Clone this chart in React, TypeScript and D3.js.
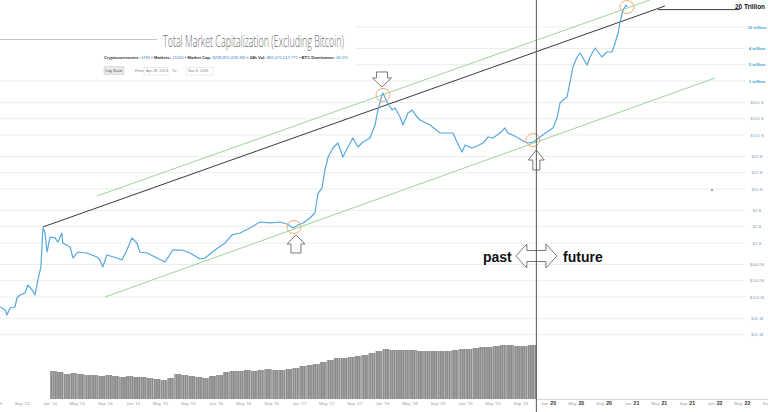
import React from "react";
import * as d3 from "d3";

// ---- Data (market cap excluding Bitcoin, $ billions) ----
const capDates = [
  "2013-05-27","2013-06-18","2013-06-26","2013-07-09","2013-07-31","2013-08-09","2013-08-22","2013-09-13","2013-09-26","2013-10-14",
  "2013-10-27","2013-11-09","2013-11-22","2013-12-01","2013-12-10","2013-12-19","2014-01-01","2014-01-23","2014-02-05","2014-02-22",
  "2014-02-26","2014-03-30","2014-04-12","2014-05-04","2014-06-12","2014-07-26","2014-08-08","2014-08-21","2014-09-08","2014-10-22",
  "2014-11-13","2014-12-05","2014-12-27","2015-01-18","2015-01-31","2015-03-03","2015-04-16","2015-05-21","2015-06-25","2015-08-04",
  "2015-09-08","2015-10-22","2015-11-13","2015-12-27","2016-02-09","2016-03-11","2016-04-15","2016-05-29","2016-07-12","2016-08-25",
  "2016-10-08","2016-11-07","2016-12-04","2016-12-26","2017-01-17","2017-02-16","2017-03-10","2017-03-24","2017-04-10","2017-04-23",
  "2017-05-07","2017-05-28","2017-06-19","2017-07-11","2017-08-02","2017-08-24","2017-09-15","2017-10-07","2017-11-07","2017-11-29",
  "2017-12-12","2017-12-30","2018-01-03","2018-01-21","2018-02-12","2018-02-25","2018-03-19","2018-04-01","2018-04-23","2018-05-11",
  "2018-06-02","2018-06-15","2018-07-29","2018-09-11","2018-10-11","2018-11-07","2018-11-24","2018-12-16","2018-12-30","2019-01-29",
  "2019-02-20","2019-03-19","2019-04-10","2019-05-02","2019-06-01","2019-06-23","2019-07-06","2019-07-28","2019-08-28","2019-09-19",
  "2019-10-11","2019-11-02"
];
const capValues = [
  0.0653,0.0574,0.0464,0.0625,0.0653,0.0958,0.109,0.119,0.167,0.135,
  0.109,0.207,0.36,1.9,1.53,0.681,1.29,1.24,1.04,1.53,
  1.0,0.843,0.527,0.681,0.653,0.551,0.484,0.36,0.6,0.527,
  0.484,0.741,1.24,1.0,0.681,0.653,0.527,0.445,0.741,0.741,
  0.653,0.506,0.527,0.741,1.0,1.41,1.53,1.9,2.45,2.35,
  2.45,2.25,1.9,2.15,2.35,2.9,3.59,8.43,10.4,22.5,
  39.1,57.4,71.1,39.1,60.0,88.0,60.0,74.1,88.0,153,
  290,551,600,408,290,316,215,153,255,290,
  215,190,153,109,109,109,74.1,48.4,65.3,57.4,
  62.5,71.1,91.8,88.0,109,135,109,100,84.3,74.1,
  71.1,77.4
];
// projected ("future") path, $ billions
const projDates = [
  "2019-11-02","2019-11-24","2019-12-25","2020-01-20","2020-02-07","2020-02-20","2020-03-04","2020-03-22","2020-04-04","2020-04-17",
  "2020-05-05","2020-05-18","2020-05-31","2020-06-18","2020-07-01","2020-07-23","2020-08-05","2020-08-22","2020-09-13","2020-10-05",
  "2020-10-19","2020-11-01","2020-11-10","2020-11-23","2020-12-06","2020-12-10"
];
const projValues = [
  77.4,91.8,114,135,207,392,445,506,958,1816,
  2782,3300,2667,1978,2782,4087,3443,2782,3443,3443,
  5058,7745,12380,20650,25550,23450
];
// monthly 24h volume, $ millions, from Jan 2014
const volStart = "2014-01-01";
const volValues = [
  27.5,20.7,11.7,15.6,11.7,8.85,8.85,6.68,8.85,6.68,5.03,6.68,
  5.03,5.03,3.79,2.86,2.15,3.79,11.7,8.85,6.68,5.03,3.79,6.68,
  8.85,20.7,27.5,27.5,36.4,27.5,36.4,48.3,36.4,36.4,48.3,64.1,
  113,150,199,350,615,1080,1080,1440,1910,2530,4460,7850,
  13800,10400,10400,10400,10400,7850,7850,7850,7850,7850,10400,13800,
  13800,18300,24300,24300,32300,42800,42800,32300,32300,42800,42800
];
const cutoffDate = "2019-11-08";

const yTickValues = [10000,4000,2000,1000,400,200,100,40,20,10,4,2,1,0.4,0.2,0.1,0.04,0.02];
const yTickLabels = ["10 trillion","4 trillion","2 trillion","1 trillion","$400 B","$200 B","$100 B","$40 B","$20 B","$10 B","$4 B","$2 B","$1 B","$400 M","$200 M","$100 M","$40 M","$20 M"];

// channel lines: [startDate, startValue, endDate, endValue]
const resistanceLine = ["2013-12-01", 1.98, "2021-05-26", 24480] as const;
const upperChannel = ["2014-07-26", 7.41, "2021-03-21", 31620] as const;
const lowerChannel = ["2014-08-30", 0.1, "2022-01-01", 1137] as const;
const targetLine = ["2021-04-25", 21000, "2022-04-21", 21000] as const;
const targetLabel = "20 Trillion";

const circleDates = ["2016-12-08", "2018-01-03", "2019-10-24", "2020-12-10"];
const circleValues = [1.98, 551, 80.7, 23440];

const statsParts: [string, string][] = [
  ["Cryptocurrencies: ", "4792"],
  [" • Markets: ", "21030"],
  [" • Market Cap: ", "$238,855,658,385"],
  [" • 24h Vol: ", "$82,072,017,771"],
  [" • BTC Dominance: ", "66.5%"],
];

const FONT = "'Liberation Sans', Arial, sans-serif";

function upArrow(cx: number, tipY: number, headW: number, headH: number, shaftW: number, total: number) {
  const hw = headW / 2, sw = shaftW / 2;
  return `M${cx},${tipY} L${cx + hw},${tipY + headH} L${cx + sw},${tipY + headH} L${cx + sw},${tipY + total} L${cx - sw},${tipY + total} L${cx - sw},${tipY + headH} L${cx - hw},${tipY + headH} Z`;
}
function downArrow(cx: number, tipY: number, headW: number, headH: number, shaftW: number, total: number) {
  const hw = headW / 2, sw = shaftW / 2;
  return `M${cx},${tipY} L${cx + hw},${tipY - headH} L${cx + sw},${tipY - headH} L${cx + sw},${tipY - total} L${cx - sw},${tipY - total} L${cx - sw},${tipY - headH} L${cx - hw},${tipY - headH} Z`;
}
function doubleArrow(cx: number, cy: number, total: number, headL: number, headH: number, shaftH: number) {
  const l = cx - total / 2, r = cx + total / 2;
  const hh = headH / 2, sh = shaftH / 2;
  return `M${l},${cy} L${l + headL},${cy - hh} L${l + headL},${cy - sh} L${r - headL},${cy - sh} L${r - headL},${cy - hh} L${r},${cy} L${r - headL},${cy + hh} L${r - headL},${cy + sh} L${l + headL},${cy + sh} L${l + headL},${cy + hh} Z`;
}

export default function App() {
  const parse = d3.utcParse("%Y-%m-%d");
  const P = (s: string) => parse(s) as Date;
  const x = d3.scaleUtc().domain([P("2014-01-01"), P("2022-01-01")]).range([50, 715]);
  const y = d3.scaleLog().domain([10000, 0.1]).range([27, 297]);
  const yVol = d3.scaleLog().domain([0.01, 100000]).range([399, 342]);

  const line = d3.line<[Date, number]>().x((d) => x(d[0])).y((d) => y(d[1]));
  const hist: [Date, number][] = capDates.map((d, i) => [P(d), capValues[i]]);
  const proj: [Date, number][] = projDates.map((d, i) => [P(d), projValues[i]]);

  const xCut = x(P(cutoffDate));
  const v0 = P(volStart);
  const bars = volValues.map((v, i) => {
    const a = x(d3.utcMonth.offset(v0, i));
    const b = Math.min(x(d3.utcMonth.offset(v0, i + 1)), xCut);
    return { x: a, w: Math.max(0, b - a), y: yVol(v) };
  });

  const ticks = d3.utcMonth.every(4)!.range(P("2013-05-01"), P("2022-10-01"));
  const fmtPast = d3.utcFormat("%b '%y");
  const fmtMon = d3.utcFormat("%b");
  const fmtYr = d3.utcFormat("%y");

  const seg = (l: readonly [string, number, string, number]) => ({
    x1: x(P(l[0])), y1: y(l[1]), x2: x(P(l[2])), y2: y(l[3]),
  });
  const res = seg(resistanceLine);
  const up = seg(upperChannel);
  const lo = seg(lowerChannel);
  const tg = seg(targetLine);

  const circles = circleDates.map((d, i) => ({ cx: x(P(d)), cy: y(circleValues[i]) }));

  return (
    <svg width={768} height={412} style={{ position: "absolute", left: 0, top: 0, display: "block", background: "#fff" }} fontFamily={FONT}>
      <defs>
        <pattern id="volstripe" width="2.2" height="10" patternUnits="userSpaceOnUse">
          <rect width="2.2" height="10" fill="#8b8b8b" />
          <rect x="1.5" width="0.7" height="10" fill="#b0b0b0" />
        </pattern>
        <clipPath id="plot"><rect x={0} y={0} width={768} height={412} /></clipPath>
      </defs>

      {/* gridlines */}
      {yTickValues.map((v, i) => (
        <line key={"g" + i} x1={0} x2={745} y1={y(v)} y2={y(v)} stroke="#ededed" strokeWidth={1} />
      ))}

      {/* header (covers grid) */}
      <rect x={0} y={0} width={356} height={79} fill="#fff" />
      <line x1={0} x2={157} y1={39.5} y2={39.5} stroke="#c4c4c4" strokeWidth={1} />
      <text x={163} y={47} fontSize={16.5} fontFamily="'Open Sans', sans-serif" fontWeight={300} fill="#6e6e6e" textLength={181} lengthAdjust="spacingAndGlyphs">
        Total Market Capitalization (Excluding Bitcoin)
      </text>
      <text x={104} y={59} fontSize={4.3} textLength={244} lengthAdjust="spacingAndGlyphs">
        {statsParts.map((p, i) => (
          <React.Fragment key={i}>
            <tspan fill="#333" fontWeight={700}>{p[0]}</tspan>
            <tspan fill="#3b7fd4">{p[1]}</tspan>
          </React.Fragment>
        ))}
      </text>
      <rect x={104} y={66.5} width={20} height={8} rx={1} fill="#e8e8e8" stroke="#cfcfcf" strokeWidth={0.6} />
      <text x={114} y={71.8} fontSize={3.8} textAnchor="middle" fill="#555">Log Scale</text>
      <text x={135} y={72} fontSize={3.8} fill="#888">From:</text>
      <rect x={144} y={67.5} width={24} height={7.5} fill="#fff" stroke="#ddd" strokeWidth={0.6} />
      <text x={146} y={72.3} fontSize={3.8} fill="#888">Apr 28, 2013</text>
      <text x={172} y={72} fontSize={3.8} fill="#888">To:</text>
      <rect x={186} y={67.5} width={27} height={7.5} fill="#fff" stroke="#ddd" strokeWidth={0.6} />
      <text x={188} y={72.3} fontSize={3.8} fill="#888">Nov 8, 2019</text>

      {/* volume */}
      {bars.map((b, i) => (
        <rect key={"v" + i} x={b.x} y={b.y} width={b.w} height={399 - b.y} fill="url(#volstripe)" />
      ))}
      <line x1={xCut} x2={768} y1={399.5} y2={399.5} stroke="#d6d6d6" strokeWidth={1} />

      {/* x axis labels */}
      {ticks.map((t, i) => {
        const tx = x(t);
        if (t < P(cutoffDate)) {
          return (
            <text key={"t" + i} x={tx} y={405} fontSize={4.4} textAnchor="middle" fill="#9a9a9a">{fmtPast(t)}</text>
          );
        }
        return (
          <text key={"t" + i} x={tx} y={405} fontSize={4.4} textAnchor="middle" fill="#9a9a9a">
            {fmtMon(t)}
            <tspan dx={2} fontSize={5.2} fontWeight={700} fill="#333">{fmtYr(t)}</tspan>
          </text>
        );
      })}

      <g clipPath="url(#plot)">
        {/* channel lines */}
        <line {...up} stroke="#9bd69b" strokeWidth={1} />
        <line {...lo} stroke="#9bd69b" strokeWidth={1} />
        <line {...res} stroke="#3a3a3a" strokeWidth={1} />
        <line {...tg} stroke="#3a3a3a" strokeWidth={1} />

        {/* market cap line */}
        <path d={line(hist) || ""} fill="none" stroke="#56a8e0" strokeWidth={1.2} strokeLinejoin="round" />
        <path d={line(proj) || ""} fill="none" stroke="#56a8e0" strokeWidth={1.2} strokeLinejoin="round" />

        {/* circles */}
        {circles.map((c, i) => (
          <ellipse key={"c" + i} cx={c.cx} cy={c.cy} rx={7} ry={6.5} fill="none" stroke="#f0a970" strokeWidth={1} />
        ))}

        {/* arrows */}
        <path d={upArrow(circles[0].cx + 2, circles[0].cy + 8, 18, 9, 10, 18)} fill="#fff" stroke="#777" strokeWidth={1} />
        <path d={downArrow(circles[1].cx - 1, circles[1].cy - 8, 19, 9, 11, 15)} fill="#fff" stroke="#777" strokeWidth={1} />
        <path d={upArrow(xCut, circles[2].cy + 10, 16, 10, 7, 20)} fill="#fff" stroke="#777" strokeWidth={1} />
        <path d={doubleArrow(xCut, 256, 41, 11, 24, 11)} fill="#fff" stroke="#777" strokeWidth={1} />

        {/* past / future divider */}
        <line x1={xCut} x2={xCut} y1={0} y2={412} stroke="#555" strokeWidth={1} />
      </g>

      <text x={483} y={262} fontSize={14} fontWeight={700} fill="#111">past</text>
      <text x={563} y={262} fontSize={14} fontWeight={700} fill="#111">future</text>

      <circle cx={712} cy={190} r={0.8} fill="#333" />

      {/* y axis labels */}
      {yTickValues.map((v, i) => {
        const big = v >= 1000;
        return (
          <text key={"yl" + i} x={757} y={y(v) + 1.5} fontSize={4.3} textAnchor="middle" fill={big ? "#3aa0da" : "#8aa6be"} fontWeight={big ? 700 : 400}>
            {yTickLabels[i]}
          </text>
        );
      })}
      <text x={765} y={8.5} fontSize={7.5} fontWeight={700} textAnchor="end" fill="#111" textLength={30} lengthAdjust="spacingAndGlyphs">{targetLabel}</text>
    </svg>
  );
}
